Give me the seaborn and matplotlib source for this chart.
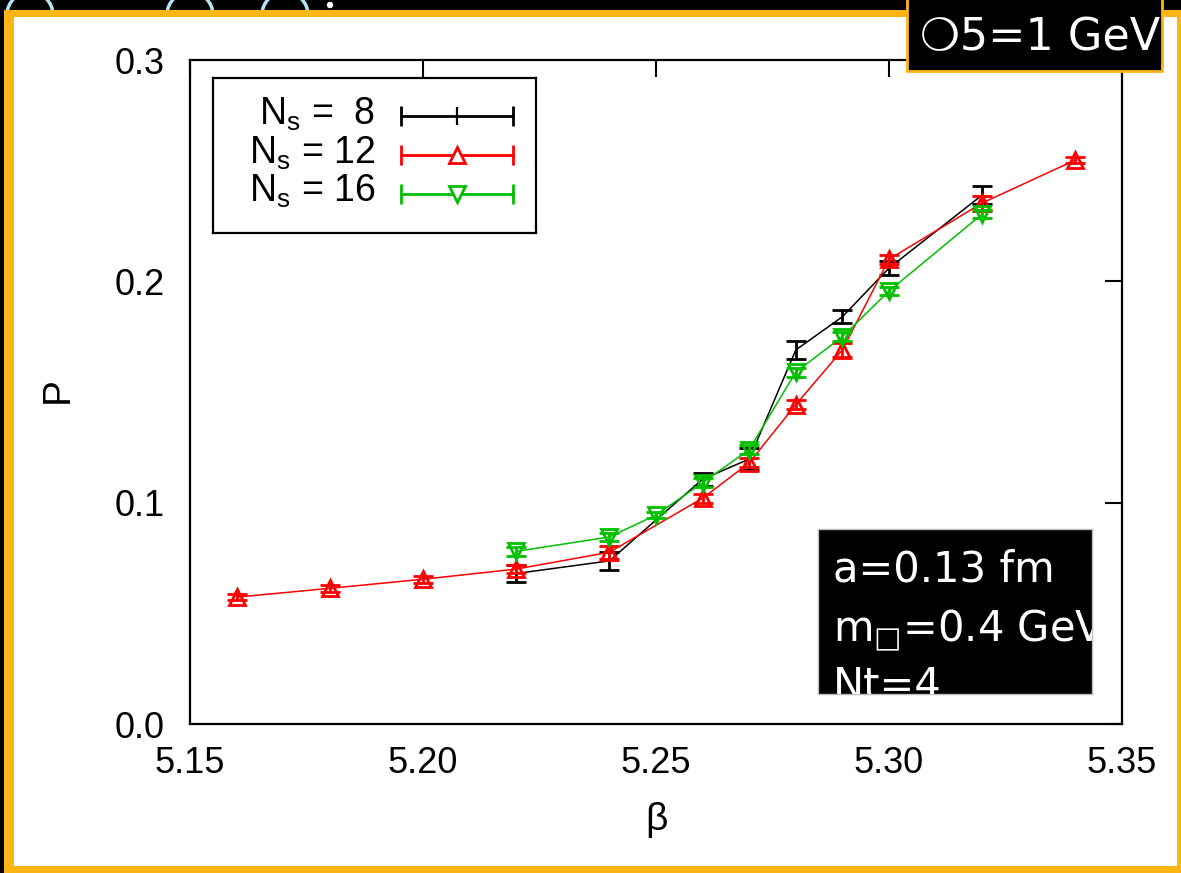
import matplotlib
matplotlib.use("Agg")
import matplotlib.pyplot as plt
import matplotlib.patches as mpatches
from matplotlib.transforms import IdentityTransform
import seaborn as sns

# ---- data -------------------------------------------------------------
beta_8 = [5.22, 5.24, 5.26, 5.27, 5.28, 5.29, 5.30, 5.32]
p_8 = [0.068, 0.0737, 0.1106, 0.1197, 0.169, 0.184, 0.206, 0.239]
err_8 = [0.004, 0.004, 0.003, 0.005, 0.004, 0.003, 0.003, 0.004]

beta_12 = [5.16, 5.18, 5.20, 5.22, 5.24, 5.26, 5.27, 5.28, 5.29, 5.30, 5.32, 5.34]
p_12 = [0.0573, 0.0613, 0.0654, 0.070, 0.0776, 0.1020, 0.1180, 0.1443, 0.169, 0.2100, 0.2354, 0.2548]
err_12 = [0.0015, 0.0015, 0.0015, 0.002, 0.003, 0.002, 0.002, 0.002, 0.003, 0.002, 0.003, 0.0015]

beta_16 = [5.22, 5.24, 5.25, 5.26, 5.27, 5.28, 5.29, 5.30, 5.32]
p_16 = [0.078, 0.0845, 0.0944, 0.109, 0.124, 0.159, 0.175, 0.1956, 0.2304]
err_16 = [0.002, 0.002, 0.0015, 0.002, 0.002, 0.002, 0.002, 0.002, 0.002]

legend_labels = ["N$_\\mathregular{s}$ =  8", "N$_\\mathregular{s}$ = 12", "N$_\\mathregular{s}$ = 16"]
x_ticks = [5.15, 5.20, 5.25, 5.30, 5.35]
y_ticks = [0.0, 0.1, 0.2, 0.3]

BLACK, RED, GREEN = "#000000", "#FF0000", "#00C000"
ORANGE = "#FDB515"

sns.set_style("white")
plt.rcParams["font.family"] = ["Liberation Sans", "DejaVu Sans"]
plt.rcParams["text.color"] = "black"
plt.rcParams["axes.labelcolor"] = "black"

W, H = 1181, 873
fig = plt.figure(figsize=(W / 100, H / 100), dpi=100, facecolor="black")


def fr(x, y):
    """pixel (top-left origin) -> figure fraction"""
    return x / W, 1 - y / H


def px_rect(x0, y0, x1, y1, **kw):
    return mpatches.Rectangle((x0, H - y1), x1 - x0, y1 - y0,
                              transform=IdentityTransform(), **kw)


# slide frame: light arcs on the dark strip, orange border, white page
for cx in (30, 190, 285):
    fig.add_artist(mpatches.Arc((cx, H - 15), 46, 46, transform=IdentityTransform(),
                                color="#B0E4F4", lw=2.5, zorder=0))
fig.add_artist(mpatches.Circle((330, H - 5), 2.5, transform=IdentityTransform(),
                               color="white", zorder=0))
fig.add_artist(px_rect(4, 10, 1190, 880, facecolor=ORANGE, edgecolor="none", zorder=1))
fig.add_artist(px_rect(14, 17, 1177, 866, facecolor="white", edgecolor="none", zorder=2))

# ---- main axes --------------------------------------------------------
ax = fig.add_axes([190 / W, 1 - 724 / H, (1122 - 190) / W, (724 - 60) / H])
ax.set_zorder(3)
ax.set_facecolor("white")

series = [
    (beta_8, p_8, err_8, BLACK, None),
    (beta_12, p_12, err_12, RED, "^"),
    (beta_16, p_16, err_16, GREEN, "v"),
]
for k, (b, p, e, c, m) in enumerate(series):
    kw = dict(color=c, lw=1.1, ax=ax, errorbar=None, zorder=3 + k)
    if m is not None:
        kw.update(marker=m, markersize=11, markerfacecolor="none",
                  markeredgecolor=c, markeredgewidth=2)
    sns.lineplot(x=b, y=p, **kw)
    ax.errorbar(b, p, yerr=e, fmt="none", ecolor=c, elinewidth=2,
                capsize=7.5, capthick=2, zorder=3 + k)

ax.set_xlim(5.15, 5.35)
ax.set_ylim(0.0, 0.3)
ax.set_xticks(x_ticks)
ax.set_yticks(y_ticks)
ax.set_xticklabels([f"{v:.2f}" for v in x_ticks])
ax.set_yticklabels([f"{v:.1f}" for v in y_ticks])
ax.tick_params(direction="in", length=12, width=1.5, top=True, right=True,
               labelsize=26, pad=16, colors="black")
ax.tick_params(axis="y", pad=18)
for s in ax.spines.values():
    s.set_linewidth(1.6)
    s.set_color("black")
ax.set_xlabel("β", fontsize=28, color="black")
ax.set_ylabel("P", fontsize=28, color="black")
ax.xaxis.set_label_coords(0.5, -0.118)
ax.yaxis.set_label_coords(-0.123, 0.503)

# ---- key box ----------------------------------------------------------
lx0, ly0, lx1, ly1 = 213, 78, 536, 233
lax = fig.add_axes([lx0 / W, 1 - ly1 / H, (lx1 - lx0) / W, (ly1 - ly0) / H])
lax.set_zorder(5)
lax.set_xlim(0, 1)
lax.set_ylim(0, 1)
lax.set_xticks([])
lax.set_yticks([])
lax.set_facecolor("white")
for s in lax.spines.values():
    s.set_linewidth(1.6)
    s.set_color("black")

rows_line = [0.753, 0.503, 0.252]
rows_text = [0.697, 0.449, 0.200]
key_markers = ["|", "^", "v"]
key_colors = [BLACK, RED, GREEN]
xa, xb = 0.582, 0.929
for lab, yl, yt, mk, c in zip(legend_labels, rows_line, rows_text, key_markers, key_colors):
    lax.text(0.5015, yt, lab, ha="right", va="baseline", fontsize=27, color="black")
    lax.plot([xa, xb], [yl, yl], color=c, lw=2)
    lax.plot([xa, xb], [yl, yl], ls="none", marker="|", markersize=14,
             markeredgewidth=2, color=c)
    if mk == "|":
        lax.plot([(xa + xb) / 2], [yl], marker="|", markersize=13,
                 markeredgewidth=1.6, color=c)
    else:
        lax.plot([(xa + xb) / 2], [yl], marker=mk, markersize=11,
                 markerfacecolor="white", markeredgecolor=c, markeredgewidth=2)

# ---- annotation boxes -------------------------------------------------
top_box = px_rect(907, -5, 1162, 71, facecolor="black", edgecolor=ORANGE,
                  lw=2, zorder=10)
fig.add_artist(top_box)
fig.text(*fr(920, 50), "❍5=1 GeV", color="white", fontsize=32,
         family=["DejaVu Sans"], ha="left", va="baseline", zorder=11)

info_box = px_rect(818, 529, 1092, 694, facecolor="black", edgecolor="#BBBBBB",
                   lw=1, zorder=10)
fig.add_artist(info_box)
info_lines = ["a=0.13 fm", "m$_{□}$=0.4 GeV", "Nt=4"]
info_base = [582, 640, 698]
for txt, yb in zip(info_lines, info_base):
    t = fig.text(*fr(833, yb), txt, color="white", fontsize=30,
                 family=["DejaVu Sans"], ha="left", va="baseline", zorder=11)
    t.set_clip_path(info_box)

fig.savefig("out.png", dpi=100, facecolor=fig.get_facecolor())
